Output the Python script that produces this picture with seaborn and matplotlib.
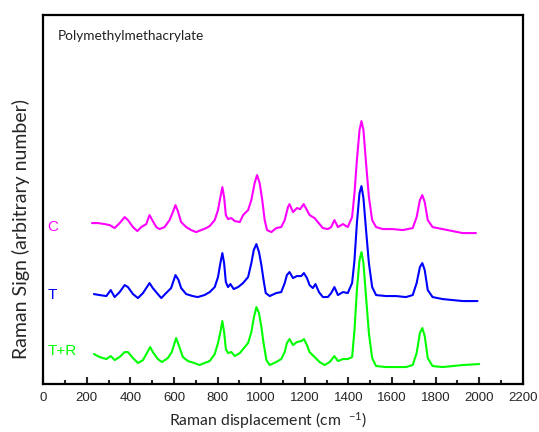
import matplotlib
matplotlib.use("Agg")
import matplotlib.pyplot as plt
from matplotlib.ticker import MultipleLocator
import seaborn as sns
import pandas as pd

# Raman shift (cm-1) and intensity (arbitrary, offset per sample)
x_c = [224, 252, 282, 305, 328, 351, 374, 389, 412, 432, 450, 473, 488, 503, 519, 534, 557, 580,
       595, 607, 618, 633, 656, 679, 702, 725, 748, 764, 787, 802, 813, 822, 830, 838, 848, 863,
       879, 902, 917, 940, 955, 970, 981, 993, 1005, 1016, 1027, 1047, 1069, 1092, 1108, 1123,
       1130, 1146, 1164, 1179, 1195, 1210, 1222, 1245, 1260, 1283, 1306, 1321, 1336, 1352, 1375,
       1397, 1417, 1428, 1439, 1451, 1460, 1469, 1481, 1494, 1509, 1527, 1558, 1603, 1649, 1695,
       1713, 1728, 1739, 1750, 1764, 1786, 1832, 1878, 1924, 1985]
y_c = [161, 161, 160, 159, 156, 161, 167, 164, 157, 153, 157, 160, 169, 163, 157, 155, 157, 164,
       172, 179, 173, 162, 157, 154, 152, 154, 156, 158, 164, 174, 187, 197, 187, 169, 165, 166,
       163, 162, 169, 174, 184, 201, 209, 201, 184, 164, 154, 152, 156, 157, 164, 177,
       180, 172, 176, 175, 180, 174, 169, 166, 162, 156, 155, 157, 164, 157, 160,
       157, 167, 191, 224, 254, 263, 254, 221, 187, 164, 157, 155, 155, 154, 156,
       167, 184, 189, 182, 164, 157, 155, 153, 151, 151]

x_t = [233, 259, 290, 310, 328, 351, 374, 389, 412, 435, 458, 488, 503, 526, 542, 564, 587, 607,
       621, 633, 656, 686, 709, 740, 764, 787, 802, 813, 822, 830, 838, 848, 859, 874, 894, 917,
       940, 955, 966, 978, 990, 1001, 1011, 1021, 1039, 1069, 1092, 1108, 1118, 1130, 1146, 1164,
       1184, 1196, 1210, 1222, 1237, 1249, 1265, 1283, 1306, 1321, 1336, 1352, 1375, 1397, 1417,
       1428, 1439, 1451, 1460, 1469, 1481, 1494, 1509, 1527, 1573, 1619, 1664, 1695, 1713, 1728,
       1739, 1750, 1764, 1786, 1832, 1878, 1924, 1992]
y_t = [90, 89, 88, 94, 87, 92, 99, 97, 90, 86, 91, 101, 96, 90, 86, 91, 96, 109,
       104, 96, 90, 88, 87, 89, 92, 97, 107, 121, 131, 121, 102, 97, 100, 95, 97, 101,
       107, 121, 134, 140, 132, 119, 104, 91, 88, 91, 92, 101, 109, 112, 106, 108,
       108, 111, 106, 99, 96, 100, 92, 87, 87, 91, 97, 89, 92, 91, 101,
       124, 161, 191, 198, 186, 154, 121, 97, 89, 88, 88, 87, 89, 101, 117,
       121, 114, 94, 87, 85, 84, 83, 83]

x_tr = [233, 259, 290, 310, 328, 351, 374, 389, 412, 435, 458, 491, 503, 526, 545, 572, 590, 610,
        625, 641, 664, 694, 717, 740, 764, 787, 802, 813, 822, 830, 838, 848, 863, 879, 902, 917,
        940, 955, 966, 978, 990, 1001, 1011, 1024, 1039, 1069, 1092, 1108, 1118, 1130, 1146, 1164,
        1184, 1196, 1210, 1222, 1245, 1268, 1291, 1314, 1336, 1352, 1375, 1397, 1417, 1428, 1439,
        1451, 1460, 1469, 1481, 1494, 1509, 1527, 1573, 1619, 1664, 1695, 1713, 1728, 1739, 1750,
        1764, 1786, 1832, 1878, 1924, 2000]
y_tr = [30, 27, 25, 28, 24, 27, 32, 32, 26, 21, 24, 37, 32, 25, 22, 26, 32, 46,
        37, 27, 23, 21, 19, 21, 23, 30, 41, 52, 63, 52, 35, 31, 32, 28, 31, 35,
        41, 52, 66, 77, 71, 57, 41, 24, 19, 22, 25, 32, 41, 45, 39, 42,
        43, 45, 39, 32, 27, 22, 19, 22, 28, 23, 25, 25, 27, 54, 94,
        124, 132, 121, 87, 51, 26, 18, 17, 17, 17, 19, 31, 51, 56, 48,
        26, 18, 17, 18, 19, 20]

names = ["C", "T", "T+R"]
colors = ["#ff00ff", "#0000ff", "#00ff00"]
label_y = [157, 89, 33]

sns.set_style("ticks")
plt.rcParams["mathtext.default"] = "regular"

fig = plt.figure(figsize=(5.39, 4.32), dpi=100)
ax = fig.add_axes([0.080, 0.111, 0.890, 0.854])

for name, xs, ys, col in zip(names, [x_c, x_t, x_tr], [y_c, y_t, y_tr], colors):
    df = pd.DataFrame({"shift": xs, "intensity": ys})
    sns.lineplot(data=df, x="shift", y="intensity", color=col, linewidth=1.5, ax=ax, legend=False)

for name, yy, col in zip(names, label_y, colors):
    ax.text(20, yy, name, color=col, fontsize=11, family="Liberation Sans", va="center", ha="left")

ax.text(68, 348, "Polymethylmethacrylate", fontsize=9.8, family="Lato", color="#222222",
        va="center", ha="left")

ax.set_xlim(0, 2200)
ax.set_ylim(0, 369)
ax.xaxis.set_major_locator(MultipleLocator(200))
ax.xaxis.set_minor_locator(MultipleLocator(100))
ax.set_yticks([])
ax.tick_params(axis="x", which="major", direction="in", length=5, width=1.5, labelsize=9.5, pad=6)
ax.tick_params(axis="x", which="minor", direction="in", length=3, width=1.5)
for lab in ax.get_xticklabels():
    lab.set_family("Liberation Sans")

for sp in ax.spines.values():
    sp.set_linewidth(1.6)
    sp.set_color("black")

ax.set_xlabel("Raman displacement (cm  $^{-1}$)", fontsize=11.3, family="Lato")
ax.xaxis.set_label_coords(0.47, -0.07)
ax.set_ylabel("Raman Sign (arbitrary number)", fontsize=14, family="Lato")
ax.yaxis.set_label_coords(-0.028, 0.42)

fig.savefig("out.png", dpi=100)
